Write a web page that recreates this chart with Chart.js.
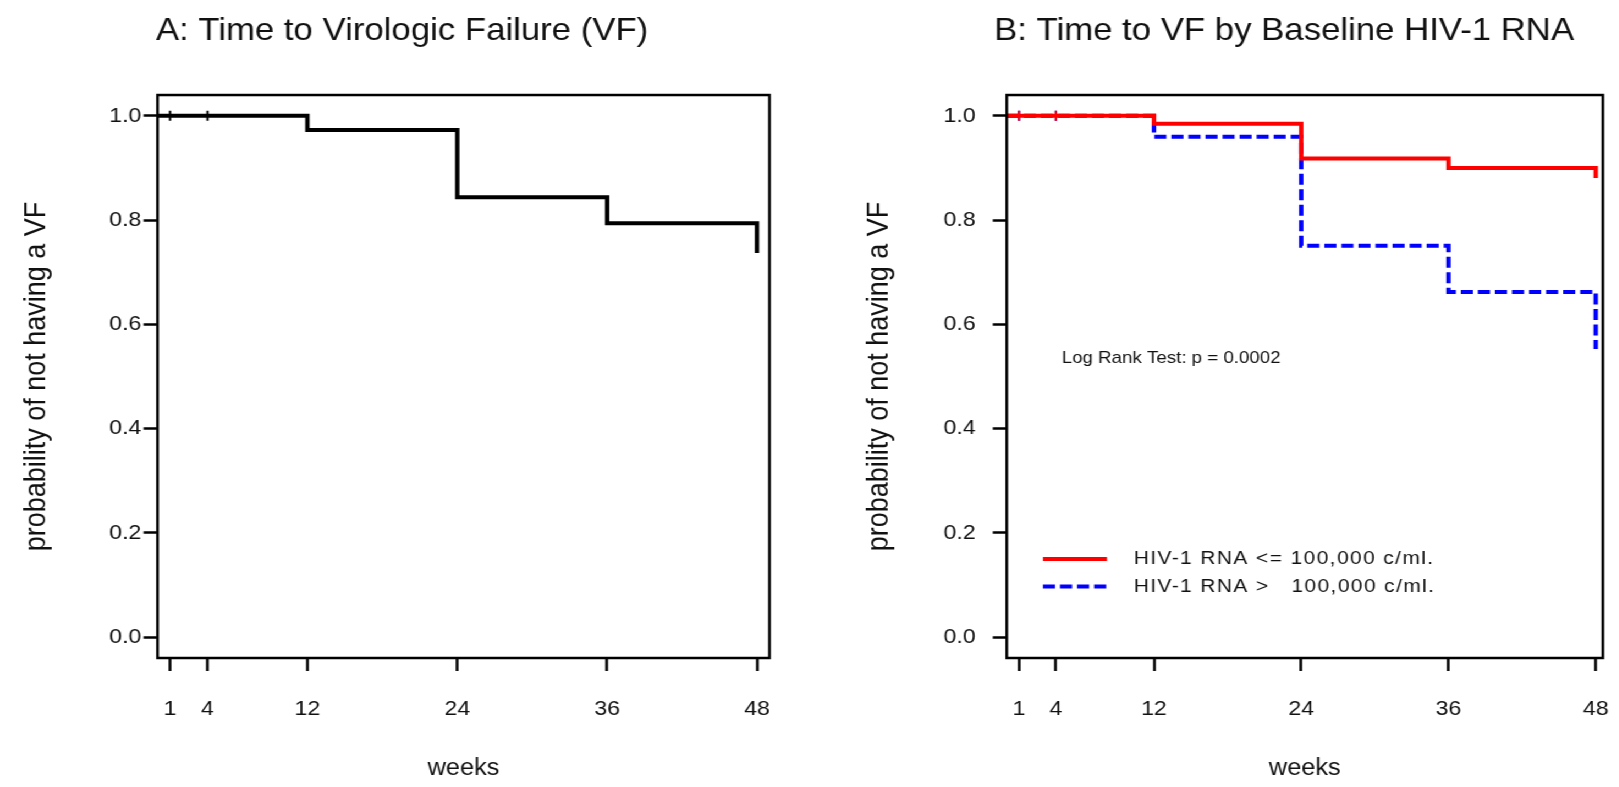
<!DOCTYPE html>
<html>
<head>
<meta charset="utf-8">
<script src="https://cdn.jsdelivr.net/npm/chart.js@4.4.1/dist/chart.umd.min.js"></script>
<style>
  html, body { margin: 0; padding: 0; background: #fff; overflow: hidden; width: 1619px; height: 787px; }
  #wrap { position: absolute; left: 0; top: 0; width: 1472px; height: 787px; transform: scaleX(1.1); transform-origin: 0 0; }
  #boxA { position: absolute; left: 0; top: 0; width: 727px; height: 787px; }
  #boxB { position: absolute; left: 760px; top: 0; width: 775px; height: 787px; }
</style>
</head>
<body>
<div id="wrap">
  <div id="boxA"><canvas id="chartA"></canvas></div>
  <div id="boxB"><canvas id="chartB"></canvas></div>
</div>
<script>
// ---- data ----
const weeks = [0, 12, 24, 36, 48];
const survAll = [1.0, 0.973, 0.844, 0.794, 0.737];
const survLow = [1.0, 0.985, 0.918, 0.900, 0.881];
const survHigh = [1.0, 0.960, 0.751, 0.662, 0.553];
const censorWeeks = [1, 4];
const censorSurv = [1.0, 1.0];
const xTicks = [1, 4, 12, 24, 36, 48];
const yTicks = [0.0, 0.2, 0.4, 0.6, 0.8, 1.0];
const titleA = 'A: Time to Virologic Failure (VF)';
const titleB = 'B: Time to VF by Baseline HIV-1 RNA';
const xTitle = 'weeks';
const yTitle = 'probability of not having a VF';
const legendLabels = ['HIV-1 RNA <= 100,000 c/ml.', 'HIV-1 RNA >   100,000 c/ml.'];
const logRankText = 'Log Rank Test: p = 0.0002';

const FONT = '"Liberation Sans", Arial, Helvetica, sans-serif';
const TXT = '#111';

function pts(xs, ys) { return xs.map((x, i) => ({ x: x, y: ys[i] })); }

const framePlugin = {
  id: 'frame',
  afterDatasetsDraw(chart) {
    const { ctx, chartArea: a } = chart;
    ctx.save();
    ctx.strokeStyle = '#000';
    ctx.lineWidth = 2.5;
    ctx.strokeRect(a.left, a.top, a.right - a.left, a.bottom - a.top);
    ctx.restore();
  }
};

const annotB = {
  id: 'annotB',
  afterDatasetsDraw(chart) {
    const { ctx } = chart;
    const xs = chart.scales.x, ys = chart.scales.y;
    ctx.save();
    ctx.fillStyle = TXT;
    ctx.font = '17px ' + FONT;
    ctx.textAlign = 'center';
    ctx.textBaseline = 'middle';
    ctx.fillText(logRankText, xs.getPixelForValue(13.4), ys.getPixelForValue(0.535));
    // legend
    const rows = [
      { y: 0.150, color: '#ff0000', dash: [] },
      { y: 0.097, color: '#0000ff', dash: [11, 4.5] }
    ];
    ctx.font = '19px ' + FONT;
    rows.forEach((r, i) => {
      const py = ys.getPixelForValue(r.y);
      ctx.beginPath();
      ctx.setLineDash(r.dash);
      ctx.strokeStyle = r.color;
      ctx.lineWidth = 4;
      ctx.moveTo(xs.getPixelForValue(2.95), py);
      ctx.lineTo(xs.getPixelForValue(8.17), py);
      ctx.stroke();
      ctx.setLineDash([]);
      ctx.textAlign = 'left';
      try { ctx.letterSpacing = '1.3px'; } catch (e) {}
      ctx.fillText(legendLabels[i], xs.getPixelForValue(10.35), py);
      try { ctx.letterSpacing = '0px'; } catch (e) {}
    });
    ctx.restore();
  }
};

function makeOptions(cfg) {
  return {
    responsive: true,
    maintainAspectRatio: false,
    animation: false,
    layout: { padding: { left: cfg.padLeft, right: cfg.padRight, top: 0, bottom: 0 } },
    plugins: {
      legend: { display: false },
      tooltip: { enabled: false },
      title: {
        display: true,
        text: cfg.title,
        color: TXT,
        font: { family: FONT, size: 31.6, weight: 'normal', lineHeight: 1.2 },
        padding: { top: 12, bottom: 45.1 }
      }
    },
    scales: {
      x: {
        type: 'linear',
        position: 'bottom',
        min: 0,
        max: cfg.xMax,
        afterBuildTicks: s => { s.ticks = xTicks.map(v => ({ value: v })); },
        afterFit: s => { s.height = 129; s.paddingLeft = 0; s.paddingRight = cfg.areaPadRight; },
        border: { display: false },
        grid: { display: true, drawOnChartArea: false, drawTicks: true, tickLength: 13, tickWidth: 2.5, tickColor: '#000' },
        ticks: { autoSkip: false, maxRotation: 0, padding: 25.4, color: TXT, font: { family: FONT, size: 21 }, callback: v => String(v) },
        title: { display: true, text: xTitle, color: TXT, font: { family: FONT, size: 23, lineHeight: 1.2 }, padding: { top: 0, bottom: 4.2 } }
      },
      y: {
        type: 'linear',
        min: -0.04,
        max: 1.04,
        afterBuildTicks: s => { s.ticks = yTicks.map(v => ({ value: v })); },
        afterFit: s => { s.width = cfg.yWidth; s.paddingTop = 0; s.paddingBottom = 0; },
        border: { display: false },
        grid: { display: true, drawOnChartArea: false, drawTicks: true, tickLength: 12.7, tickWidth: 2.5, tickColor: '#000' },
        ticks: { padding: cfg.yTickPad, color: TXT, font: { family: FONT, size: 21 }, callback: v => Number(v).toFixed(1) },
        title: { display: true, text: yTitle, color: TXT, font: { family: FONT, size: 27, lineHeight: 1.2 }, padding: { top: cfg.yTitlePad, bottom: 0 } }
      }
    }
  };
}

new Chart(document.getElementById('chartA'), {
  type: 'line',
  data: {
    datasets: [
      { data: pts(weeks, survAll), stepped: true, borderColor: '#000', borderWidth: 4, pointRadius: 0, fill: false },
      { data: pts(censorWeeks, censorSurv), showLine: false, pointStyle: 'line', rotation: 90, pointRadius: 5, borderWidth: 2, borderColor: '#000', backgroundColor: '#000' }
    ]
  },
  options: makeOptions({ title: titleA, padLeft: 31.5, yWidth: 111.7, padRight: 27.5, areaPadRight: 0, xMax: 49, yTitlePad: -14.4, yTickPad: 2 }),
  plugins: [framePlugin]
});

new Chart(document.getElementById('chartB'), {
  type: 'line',
  data: {
    datasets: [
      { data: pts(weeks, survLow), stepped: true, borderColor: '#ff0000', borderWidth: 4, pointRadius: 0, fill: false },
      { data: pts(censorWeeks, censorSurv), showLine: false, pointStyle: 'line', rotation: 90, pointRadius: 5, borderWidth: 2, borderColor: '#ff0000' },
      { data: pts(weeks, survHigh), stepped: true, borderColor: '#0000ff', borderWidth: 4, borderDash: [11, 4.5], pointRadius: 0, fill: false },
      { data: pts(censorWeeks, censorSurv), showLine: false, pointStyle: 'line', rotation: 90, pointRadius: 5, borderWidth: 2, borderColor: '#0000ff' }
    ]
  },
  options: makeOptions({ title: titleB, padLeft: 40, yWidth: 115.2, padRight: 0.4, areaPadRight: 77.9, xMax: 48.58, yTitlePad: -16.2, yTickPad: 15.5 }),
  plugins: [framePlugin, annotB]
});
</script>
</body>
</html>
